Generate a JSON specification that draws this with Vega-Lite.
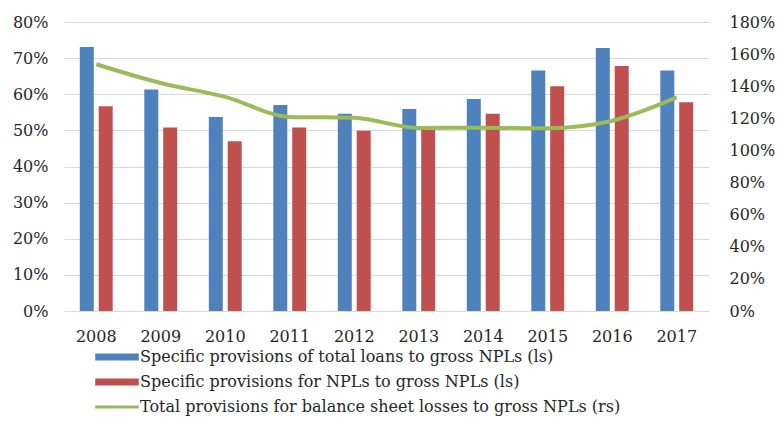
{
  "$schema": "https://vega.github.io/schema/vega-lite/v6.json",
  "autosize": {"type": "none"},
  "width": 645,
  "height": 289,
  "padding": {"left": 64, "top": 22, "right": 69, "bottom": 112},
  "background": "white",
  "config": {
    "view": {"stroke": null},
    "font": "DejaVu Serif",
    "axis": {"labelFont": "DejaVu Serif", "labelFontSize": 16, "labelColor": "#262626", "labelOverlap": false, "labelBound": false},
    "legend": {"labelFont": "DejaVu Serif", "labelFontSize": 16, "labelColor": "#262626"}
  },
  "data": {
    "values": [
      {"year": "2008", "series": "Specific provisions of total loans to gross NPLs (ls)", "value": 0.731},
      {"year": "2009", "series": "Specific provisions of total loans to gross NPLs (ls)", "value": 0.613},
      {"year": "2010", "series": "Specific provisions of total loans to gross NPLs (ls)", "value": 0.537},
      {"year": "2011", "series": "Specific provisions of total loans to gross NPLs (ls)", "value": 0.570},
      {"year": "2012", "series": "Specific provisions of total loans to gross NPLs (ls)", "value": 0.546},
      {"year": "2013", "series": "Specific provisions of total loans to gross NPLs (ls)", "value": 0.559},
      {"year": "2014", "series": "Specific provisions of total loans to gross NPLs (ls)", "value": 0.587},
      {"year": "2015", "series": "Specific provisions of total loans to gross NPLs (ls)", "value": 0.666},
      {"year": "2016", "series": "Specific provisions of total loans to gross NPLs (ls)", "value": 0.728},
      {"year": "2017", "series": "Specific provisions of total loans to gross NPLs (ls)", "value": 0.666},
      {"year": "2008", "series": "Specific provisions for NPLs to gross NPLs (ls)", "value": 0.567},
      {"year": "2009", "series": "Specific provisions for NPLs to gross NPLs (ls)", "value": 0.508},
      {"year": "2010", "series": "Specific provisions for NPLs to gross NPLs (ls)", "value": 0.470},
      {"year": "2011", "series": "Specific provisions for NPLs to gross NPLs (ls)", "value": 0.508},
      {"year": "2012", "series": "Specific provisions for NPLs to gross NPLs (ls)", "value": 0.499},
      {"year": "2013", "series": "Specific provisions for NPLs to gross NPLs (ls)", "value": 0.502},
      {"year": "2014", "series": "Specific provisions for NPLs to gross NPLs (ls)", "value": 0.546},
      {"year": "2015", "series": "Specific provisions for NPLs to gross NPLs (ls)", "value": 0.622},
      {"year": "2016", "series": "Specific provisions for NPLs to gross NPLs (ls)", "value": 0.678},
      {"year": "2017", "series": "Specific provisions for NPLs to gross NPLs (ls)", "value": 0.578},
      {"year": "2008", "series": "Total provisions for balance sheet losses to gross NPLs (rs)", "value": 1.537},
      {"year": "2009", "series": "Total provisions for balance sheet losses to gross NPLs (rs)", "value": 1.420},
      {"year": "2010", "series": "Total provisions for balance sheet losses to gross NPLs (rs)", "value": 1.334},
      {"year": "2011", "series": "Total provisions for balance sheet losses to gross NPLs (rs)", "value": 1.209},
      {"year": "2012", "series": "Total provisions for balance sheet losses to gross NPLs (rs)", "value": 1.203},
      {"year": "2013", "series": "Total provisions for balance sheet losses to gross NPLs (rs)", "value": 1.140},
      {"year": "2014", "series": "Total provisions for balance sheet losses to gross NPLs (rs)", "value": 1.142},
      {"year": "2015", "series": "Total provisions for balance sheet losses to gross NPLs (rs)", "value": 1.138},
      {"year": "2016", "series": "Total provisions for balance sheet losses to gross NPLs (rs)", "value": 1.185},
      {"year": "2017", "series": "Total provisions for balance sheet losses to gross NPLs (rs)", "value": 1.330}
    ]
  },
  "encoding": {
    "x": {
      "field": "year",
      "type": "nominal",
      "scale": {"paddingInner": 0.49, "paddingOuter": 0.245},
      "axis": {"title": null, "labelAngle": 0, "domain": false, "ticks": false, "labelPadding": 17, "grid": false}
    },
    "color": {
      "field": "series",
      "type": "nominal",
      "scale": {
        "domain": [
          "Specific provisions of total loans to gross NPLs (ls)",
          "Specific provisions for NPLs to gross NPLs (ls)",
          "Total provisions for balance sheet losses to gross NPLs (rs)"
        ],
        "range": ["#4F81BD", "#C0504D", "#9BBB59"]
      },
      "legend": {
        "orient": "none",
        "legendX": 45,
        "legendY": 327,
        "direction": "vertical",
        "title": null,
        "symbolSize": 1900,
        "symbolType": "M-1,-0.163H1V0.163H-1Z",
        "labelOffset": 15,
        "rowPadding": 9,
        "labelLimit": 600,
        "encode": {
          "symbols": {
            "update": {
              "shape": {"signal": "datum.value === 'Total provisions for balance sheet losses to gross NPLs (rs)' ? 'M-1,0H1' : 'M-1,-0.163H1V0.163H-1Z'"},
              "fill": {"signal": "datum.value === 'Total provisions for balance sheet losses to gross NPLs (rs)' ? 'transparent' : scale('color', datum.value)"},
              "stroke": {"signal": "datum.value === 'Total provisions for balance sheet losses to gross NPLs (rs)' ? scale('color', datum.value) : 'transparent'"},
              "strokeWidth": {"signal": "datum.value === 'Total provisions for balance sheet losses to gross NPLs (rs)' ? 3 : 0"},
              "opacity": {"value": 1},
              "fillOpacity": {"value": 1},
              "strokeOpacity": {"value": 1}
            }
          }
        }
      }
    }
  },
  "layer": [
    {
      "transform": [{"filter": "datum.series !== 'Total provisions for balance sheet losses to gross NPLs (rs)'"}],
      "mark": {"type": "bar"},
      "encoding": {
        "xOffset": {
          "field": "series",
          "type": "nominal",
          "sort": [
            "Specific provisions of total loans to gross NPLs (ls)",
            "Specific provisions for NPLs to gross NPLs (ls)"
          ],
          "scale": {"paddingInner": 0.26, "paddingOuter": 0}
        },
        "y": {
          "field": "value",
          "type": "quantitative",
          "scale": {"domain": [0, 0.8]},
          "axis": {
            "title": null,
            "format": ".0%",
            "values": [0, 0.1, 0.2, 0.3, 0.4, 0.5, 0.6, 0.7, 0.8],
            "domain": false,
            "ticks": false,
            "labelPadding": 16,
            "grid": true,
            "gridColor": "#d9d9d9",
            "gridWidth": 1
          }
        }
      }
    },
    {
      "transform": [{"filter": "datum.series === 'Total provisions for balance sheet losses to gross NPLs (rs)'"}],
      "mark": {"type": "line", "strokeWidth": 4, "interpolate": "monotone"},
      "encoding": {
        "y": {
          "field": "value",
          "type": "quantitative",
          "scale": {"domain": [0, 1.8]},
          "axis": {
            "title": null,
            "orient": "right",
            "format": ".0%",
            "values": [0, 0.2, 0.4, 0.6, 0.8, 1.0, 1.2, 1.4, 1.6, 1.8],
            "domain": false,
            "ticks": false,
            "labelPadding": 20,
            "grid": false
          }
        }
      }
    }
  ],
  "resolve": {"scale": {"y": "independent"}}
}
